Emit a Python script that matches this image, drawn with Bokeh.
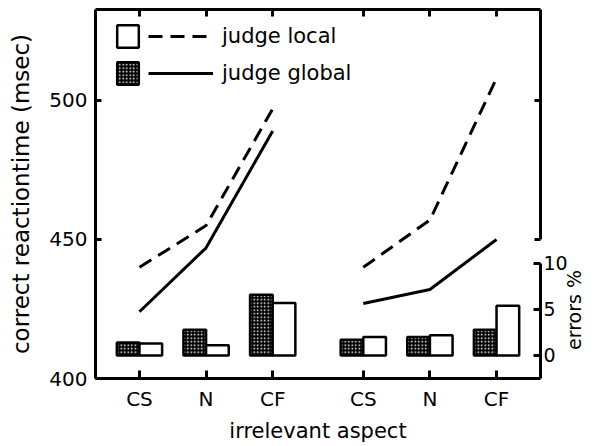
import math
from bokeh.plotting import figure
from bokeh.models import (Range1d, LinearAxis, FixedTicker, Legend, LegendItem,
                          CustomLabelingPolicy)
from bokeh.embed import file_html
from bokeh.resources import INLINE

# ---- data ----
categories = ["CS", "N", "CF"]
groups = ["group 1", "group 2"]

rt_local_g1 = [440, 455, 497]
rt_global_g1 = [424, 447, 489]
rt_local_g2 = [440, 457, 508]
rt_global_g2 = [427, 432, 450]

err_global_g1 = [1.4, 2.8, 6.6]
err_local_g1 = [1.3, 1.1, 5.7]
err_global_g2 = [1.7, 2.0, 2.8]
err_local_g2 = [2.0, 2.2, 5.4]

rt_ticks = [400, 450, 500]
err_ticks = [0, 5, 10]

# ---- layout helpers ----
STEP = 100
GAP = 36
BAR_W = 34


def positions(g):
    return [STEP * (i + 1) + g * (3 * STEP + GAP) for i in range(len(categories))]


xpos = positions(0) + positions(1)
overrides = {x: c for x, c in zip(xpos, categories * 2)}

FONT = "DejaVu Sans"
X0, X1 = 34, 702
Y0, Y_END = 400, 532.7
E0, E1 = -2.5, 37.6

p = figure(width=598, height=446, output_backend="svg", toolbar_location=None,
           x_range=Range1d(X0, X1), y_range=Range1d(Y0, Y_END),
           min_border_left=95, min_border_right=55, min_border_top=9, min_border_bottom=68)
p.extra_y_ranges = {"err": Range1d(E0, E1)}
p.outline_line_color = None
p.background_fill_color = None
p.border_fill_color = None
p.xgrid.visible = False
p.ygrid.visible = False

hide_all = CustomLabelingPolicy(code="for (const i of Array.from(indices)) { indices.unset(i) }")


def style_axis(ax, tick_in=6):
    ax.axis_line_width = 3
    ax.axis_line_color = "black"
    ax.major_tick_line_width = 3
    ax.major_tick_line_color = "black"
    ax.major_tick_in = tick_in
    ax.major_tick_out = 0
    ax.minor_tick_line_color = None
    ax.major_label_text_font = FONT
    ax.major_label_text_color = "black"
    ax.axis_label_text_font = FONT
    ax.axis_label_text_font_style = "normal"
    ax.axis_label_text_color = "black"


left = p.yaxis[0]
left.ticker = FixedTicker(ticks=rt_ticks)
left.axis_label = "correct reactiontime (msec)"
style_axis(left, 6)
left.major_label_text_font_size = "20px"
left.major_label_standoff = 8
left.axis_label_text_font_size = "23px"
left.axis_label_standoff = 12

bottom = p.xaxis[0]
bottom.ticker = FixedTicker(ticks=xpos)
bottom.major_label_overrides = overrides
bottom.axis_label = "irrelevant aspect"
style_axis(bottom, 8)
bottom.major_label_text_font_size = "20px"
bottom.major_label_standoff = 8
bottom.axis_label_text_font_size = "21px"
bottom.axis_label_standoff = 5

top = LinearAxis(ticker=FixedTicker(ticks=xpos), major_label_policy=hide_all)
style_axis(top, 7)
top.major_label_text_font_size = "0px"
top.major_label_standoff = 0
p.add_layout(top, "above")

right_rt = LinearAxis(ticker=FixedTicker(ticks=[450, 500]), bounds=(450, Y_END),
                      major_label_policy=hide_all)
style_axis(right_rt, 6)
right_rt.major_label_text_font_size = "0px"
right_rt.major_label_standoff = 0
p.add_layout(right_rt, "right")

right_err = LinearAxis(y_range_name="err", ticker=FixedTicker(ticks=err_ticks), bounds=(E0, 10),
                       axis_label="\u2003\u2002errors %")
style_axis(right_err, 7)
right_err.major_label_text_font_size = "19px"
right_err.major_label_standoff = 3
right_err.axis_label_text_font_size = "19px"
right_err.axis_label_standoff = 3
for prop, val in (("axis_label_orientation", math.pi / 2), ("axis_label_align", "start")):
    try:
        setattr(right_err, prop, val)
    except Exception:
        pass
p.add_layout(right_err, "right")

# ---- bars ----
bar_renderers = {}
for g, (eg, el) in enumerate([(err_global_g1, err_local_g1), (err_global_g2, err_local_g2)]):
    xs = positions(g)
    rg = p.vbar(x=[x - BAR_W / 2 for x in xs], top=eg, bottom=0, width=BAR_W, y_range_name="err",
                fill_color="black", line_color="black", line_width=2.5,
                hatch_pattern="dot", hatch_color="white", hatch_scale=3.5, hatch_weight=1.3)
    rl = p.vbar(x=[x + BAR_W / 2 for x in xs], top=el, bottom=0, width=BAR_W, y_range_name="err",
                fill_color="white", line_color="black", line_width=2.5)
    bar_renderers.setdefault("global", rg)
    bar_renderers.setdefault("local", rl)

# ---- lines ----
line_renderers = {}
for g, (rl, rg) in enumerate([(rt_local_g1, rt_global_g1), (rt_local_g2, rt_global_g2)]):
    xs = positions(g)
    a = p.line(xs, rl, line_color="black", line_width=3, line_dash="14 8")
    b = p.line(xs, rg, line_color="black", line_width=3)
    line_renderers.setdefault("local", a)
    line_renderers.setdefault("global", b)

# ---- legends ----
common = dict(padding=0, margin=0, spacing=9, border_line_color=None, background_fill_alpha=0,
              glyph_height=28, label_height=28)
leg_sq = Legend(items=[LegendItem(label="\u2009", renderers=[bar_renderers["local"]]),
                       LegendItem(label="\u2009", renderers=[bar_renderers["global"]])],
                location=(19, 291), glyph_width=27, label_width=0, label_standoff=0,
                label_text_font_size="4px", **common)
leg_ln = Legend(items=[LegendItem(label="judge local", renderers=[line_renderers["local"]]),
                       LegendItem(label="judge global", renderers=[line_renderers["global"]])],
                location=(53, 291), glyph_width=65, label_standoff=9,
                label_text_font=FONT, label_text_font_size="21px", label_text_color="black", **common)
p.add_layout(leg_sq, "center")
p.add_layout(leg_ln, "center")

open("out.html", "w").write(file_html(p, INLINE))
